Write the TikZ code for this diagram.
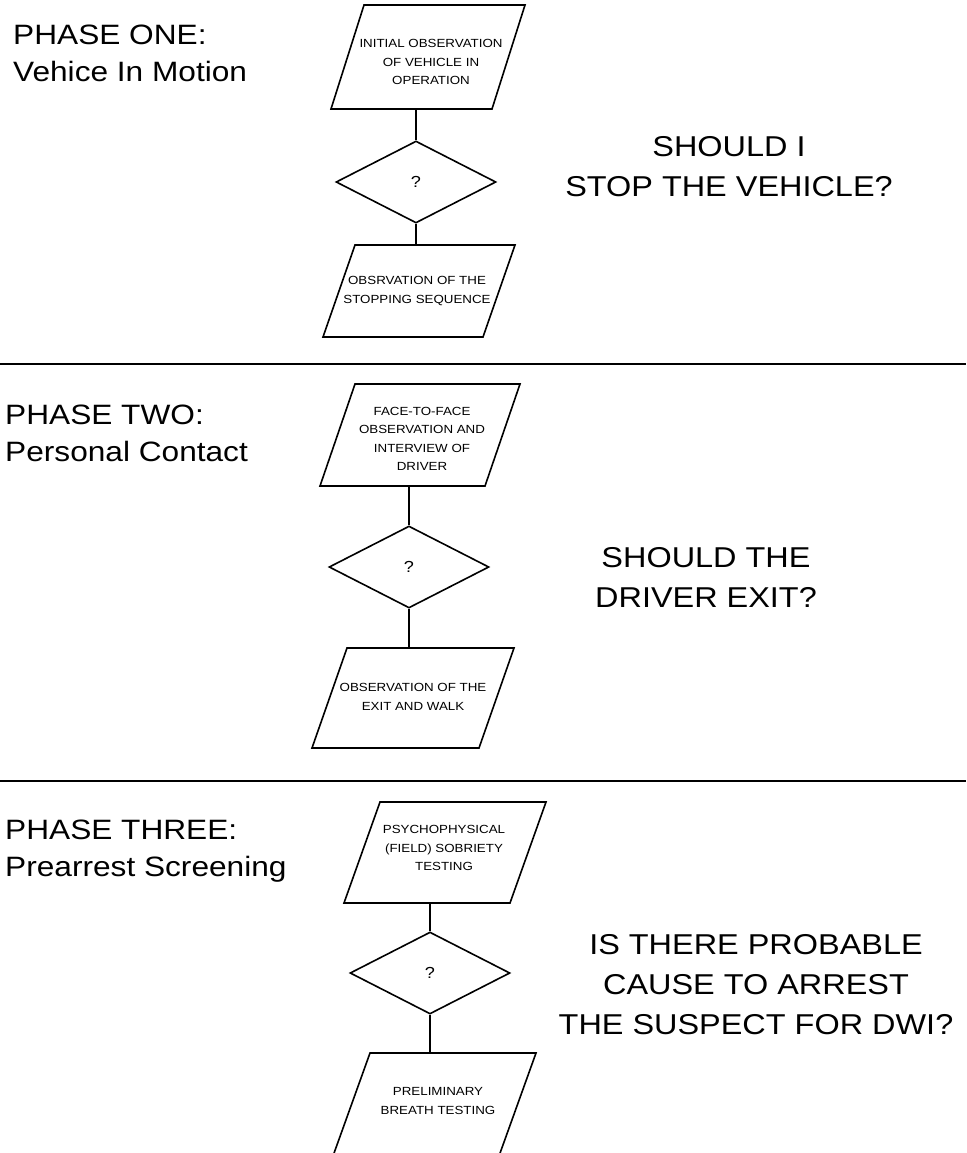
\documentclass[tikz,border=0pt]{standalone}
\usepackage{fontspec}
\setmainfont{Liberation Sans}[FakeStretch=1.13]
\usetikzlibrary{shapes.geometric}
\begin{document}
\begin{tikzpicture}[x=1pt,y=-1pt,
  box/.style={line width=1.6pt, line join=miter},
  boxtext/.style={font=\fontsize{11.8}{18.3}\selectfont, align=center, inner sep=0pt},
  dia/.style={diamond, draw, line width=1.6pt, minimum width=160pt, minimum height=82pt, inner sep=0pt, font=\fontsize{16}{18}\selectfont},
  conn/.style={line width=1.3pt},
  sepline/.style={line width=1.4pt},
  phase/.style={font=\fontsize{28}{37}\selectfont, align=left, anchor=north west, inner sep=0pt},
  question/.style={font=\fontsize{28.7}{40}\selectfont, align=center, inner sep=0pt}]
\useasboundingbox (0,0) rectangle (966,1153);

% ---------- Phase one ----------
\node[phase] (p1) at (13,25) {PHASE ONE:\\Vehice In Motion};
\draw[box] (331,109) -- (364,5) -- (525,5) -- (492,109) -- cycle;
\node[boxtext] (b1) at (431,62) {INITIAL OBSERVATION\\OF VEHICLE IN\\OPERATION};
\coordinate (b1s) at (416,109);
\node[dia] (d1) at (416,182) {?};
\draw[box] (323,337) -- (355,245) -- (515,245) -- (483,337) -- cycle;
\node[boxtext] (b2) at (417,291) {OBSRVATION OF THE\\STOPPING SEQUENCE};
\coordinate (b2n) at (416,245);
\draw[conn] (b1s) -- (d1.north);
\draw[conn] (d1.south) -- (b2n);
\node[question] (q1) at (729,167) {SHOULD I\\STOP THE VEHICLE?};

\coordinate (s1a) at (0,364);
\coordinate (s1b) at (966,364);
\draw[sepline] (s1a) -- (s1b);

% ---------- Phase two ----------
\node[phase] (p2) at (5,405) {PHASE TWO:\\Personal Contact};
\draw[box] (320,486) -- (355,384) -- (520,384) -- (485,486) -- cycle;
\node[boxtext] (b3) at (422,439) {FACE-TO-FACE\\OBSERVATION AND\\INTERVIEW OF\\DRIVER};
\coordinate (b3s) at (409,486);
\node[dia] (d2) at (409,567) {?};
\draw[box] (312,748) -- (347,648) -- (514,648) -- (479,748) -- cycle;
\node[boxtext] (b4) at (413,697) {OBSERVATION OF THE\\EXIT AND WALK};
\coordinate (b4n) at (409,648);
\draw[conn] (b3s) -- (d2.north);
\draw[conn] (d2.south) -- (b4n);
\node[question] (q2) at (706,577) {SHOULD THE\\DRIVER EXIT?};

\coordinate (s2a) at (0,781);
\coordinate (s2b) at (966,781);
\draw[sepline] (s2a) -- (s2b);

% ---------- Phase three ----------
\node[phase] (p3) at (5,820) {PHASE THREE:\\Prearrest Screening};
\draw[box] (344,903) -- (380,802) -- (546,802) -- (510,903) -- cycle;
\node[boxtext] (b5) at (444,848) {PSYCHOPHYSICAL\\(FIELD) SOBRIETY\\TESTING};
\coordinate (b5s) at (430,903);
\node[dia] (d3) at (430,973) {?};
\draw[box] (333,1156) -- (370,1053) -- (536,1053) -- (499,1156);
\node[boxtext] (b6) at (438,1101) {PRELIMINARY\\BREATH TESTING};
\coordinate (b6n) at (430,1053);
\draw[conn] (b5s) -- (d3.north);
\draw[conn] (d3.south) -- (b6n);
\node[question] (q3) at (756,985) {IS THERE PROBABLE\\CAUSE TO ARREST\\THE SUSPECT FOR DWI?};
\end{tikzpicture}
\end{document}
